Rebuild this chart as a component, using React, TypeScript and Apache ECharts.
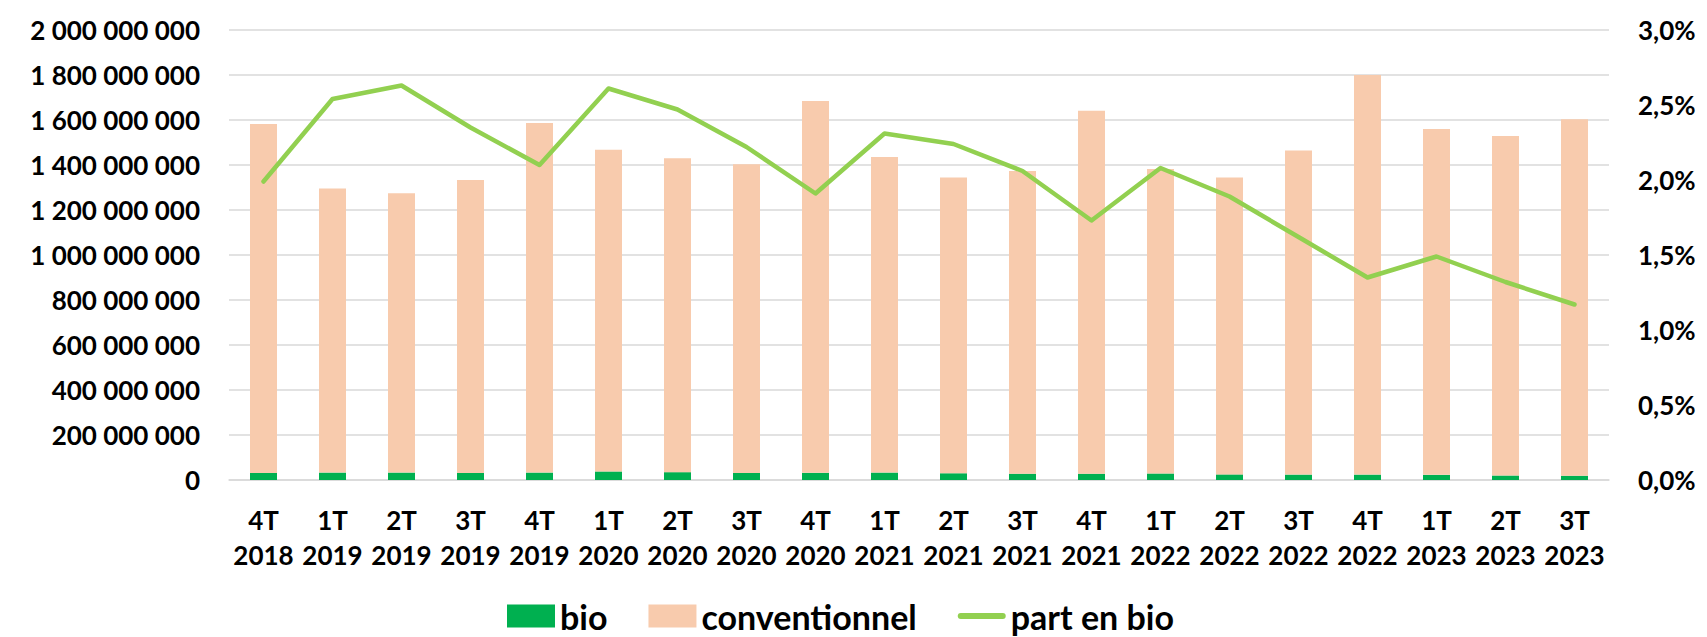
import React, { useEffect, useRef } from "react";
import * as echarts from "echarts";

const categories = [
  "4T\n2018", "1T\n2019", "2T\n2019", "3T\n2019", "4T\n2019",
  "1T\n2020", "2T\n2020", "3T\n2020", "4T\n2020", "1T\n2021",
  "2T\n2021", "3T\n2021", "4T\n2021", "1T\n2022", "2T\n2022",
  "3T\n2022", "4T\n2022", "1T\n2023", "2T\n2023", "3T\n2023",
];

const bioValues = [
  31e6, 33e6, 33e6, 31e6, 33e6, 38e6, 35e6, 31e6, 32e6, 33e6,
  30e6, 28e6, 28e6, 29e6, 25e6, 24e6, 24e6, 23e6, 20e6, 19e6,
];

const conventionnelValues = [
  1551e6, 1263e6, 1241e6, 1302e6, 1554e6, 1430e6, 1395e6, 1372e6, 1652e6, 1403e6,
  1315e6, 1345e6, 1613e6, 1353e6, 1320e6, 1440e6, 1776e6, 1537e6, 1509e6, 1584e6,
];

const partBio = [
  0.0199, 0.0254, 0.0263, 0.0235, 0.0210, 0.0261, 0.0247, 0.0222, 0.0191, 0.0231,
  0.0224, 0.0206, 0.0173, 0.0208, 0.0189, 0.0162, 0.0135, 0.0149, 0.0132, 0.0117,
];

const FONT = "Lato, 'Noto Sans', sans-serif";

export default function App() {
  const ref = useRef<HTMLDivElement>(null);

  useEffect(() => {
    if (!ref.current) return;
    const chart = echarts.init(ref.current, null, { renderer: "svg" });
    const labelStyle = {
      fontFamily: FONT,
      fontWeight: "bold" as const,
      fontSize: 26,
      color: "#000",
    };
    chart.setOption({
      animation: false,
      backgroundColor: "#fff",
      grid: { left: 229, right: 98, top: 30, bottom: 157 },
      legend: {
        left: 507,
        top: 599,
        padding: 0,
        itemWidth: 48,
        itemHeight: 23,
        itemGap: 41,
        textStyle: { ...labelStyle, fontSize: 34, lineHeight: 34 },
        data: [
          { name: "bio", icon: "rect" },
          { name: "conventionnel", icon: "rect" },
          { name: "part en bio", icon: "path://M3,0 L45,0 A3,3 0 0 1 45,6 L3,6 A3,3 0 0 1 3,0 Z" },
        ],
      },
      xAxis: {
        type: "category",
        data: categories,
        axisTick: { show: false },
        axisLine: { lineStyle: { color: "#D9D9D9", width: 1.5 } },
        axisLabel: { ...labelStyle, interval: 0, lineHeight: 35, margin: 22 },
      },
      yAxis: [
        {
          type: "value",
          min: 0,
          max: 2000000000,
          interval: 200000000,
          axisLine: { show: false },
          axisTick: { show: false },
          splitLine: { lineStyle: { color: "#D9D9D9", width: 1.5 } },
          axisLabel: {
            ...labelStyle,
            margin: 29,
            formatter: (v: number) =>
              String(Math.round(v)).replace(/\B(?=(\d{3})+(?!\d))/g, " "),
          },
        },
        {
          type: "value",
          min: 0,
          max: 0.03,
          interval: 0.005,
          position: "right",
          axisLine: { show: false },
          axisTick: { show: false },
          splitLine: { show: false },
          axisLabel: {
            ...labelStyle,
            margin: 29,
            formatter: (v: number) => (v * 100).toFixed(1).replace(".", ",") + "%",
          },
        },
      ],
      series: [
        {
          name: "bio",
          type: "bar",
          stack: "total",
          barWidth: 27,
          data: bioValues,
          itemStyle: { color: "#00B050" },
        },
        {
          name: "conventionnel",
          type: "bar",
          stack: "total",
          barWidth: 27,
          data: conventionnelValues,
          itemStyle: { color: "#F8CBAD" },
        },
        {
          name: "part en bio",
          type: "line",
          yAxisIndex: 1,
          data: partBio,
          symbol: "none",
          itemStyle: { color: "#92D050" },
          lineStyle: { color: "#92D050", width: 4.5, cap: "round", join: "round" },
        },
      ],
    });
    return () => chart.dispose();
  }, []);

  return (
    <div
      ref={ref}
      style={{ position: "fixed", left: 0, top: 0, width: 1707, height: 637 }}
    />
  );
}
